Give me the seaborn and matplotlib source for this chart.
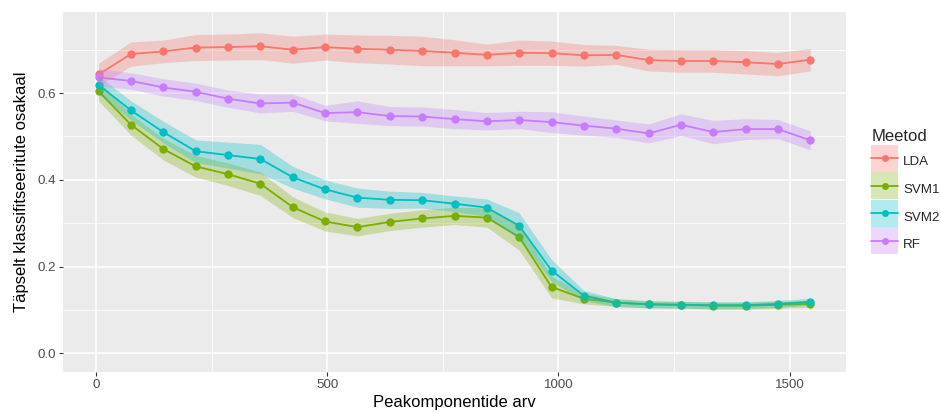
import matplotlib
matplotlib.use('Agg')
import matplotlib.pyplot as plt
import seaborn as sns
import pandas as pd
from matplotlib.lines import Line2D
from matplotlib.patches import Patch, Rectangle
from matplotlib.legend_handler import HandlerTuple, HandlerPatch

# andmed (loetud jooniselt)
komponendid = [5, 75, 145, 215, 285, 355, 425, 495, 565, 635, 705, 775,
               845, 915, 985, 1055, 1125, 1195, 1265, 1335, 1405, 1475, 1545]
meetodid = ['LDA', 'SVM1', 'SVM2', 'RF']

lda = [0.643, 0.690, 0.696, 0.705, 0.706, 0.708, 0.700, 0.706, 0.702, 0.700, 0.697, 0.693,
       0.688, 0.693, 0.692, 0.687, 0.688, 0.676, 0.674, 0.674, 0.671, 0.667, 0.677]
svm1 = [0.604, 0.527, 0.471, 0.431, 0.413, 0.391, 0.337, 0.304, 0.291, 0.303, 0.311, 0.317,
        0.313, 0.268, 0.153, 0.126, 0.117, 0.113, 0.112, 0.110, 0.110, 0.112, 0.114]
svm2 = [0.619, 0.560, 0.510, 0.466, 0.457, 0.448, 0.406, 0.378, 0.359, 0.354, 0.353, 0.345,
        0.336, 0.294, 0.191, 0.133, 0.117, 0.113, 0.112, 0.111, 0.111, 0.114, 0.119]
rf = [0.636, 0.628, 0.613, 0.603, 0.587, 0.576, 0.578, 0.554, 0.556, 0.547, 0.546, 0.540,
      0.535, 0.538, 0.533, 0.525, 0.518, 0.507, 0.527, 0.510, 0.517, 0.517, 0.491]

# vahemiku poollaius
lda_sd = [0.026, 0.028, 0.026, 0.030, 0.030, 0.031, 0.031, 0.030, 0.032, 0.033, 0.034, 0.030,
          0.025, 0.029, 0.028, 0.025, 0.022, 0.025, 0.026, 0.026, 0.027, 0.027, 0.026]
svm1_sd = [0.022, 0.024, 0.025, 0.025, 0.026, 0.027, 0.024, 0.022, 0.020, 0.020, 0.020, 0.020,
           0.022, 0.030, 0.025, 0.012, 0.009, 0.008, 0.008, 0.008, 0.008, 0.008, 0.008]
svm2_sd = [0.020, 0.022, 0.025, 0.026, 0.030, 0.034, 0.025, 0.022, 0.022, 0.020, 0.018, 0.018,
           0.020, 0.030, 0.025, 0.012, 0.009, 0.008, 0.008, 0.008, 0.008, 0.008, 0.008]
rf_sd = [0.020, 0.019, 0.020, 0.020, 0.020, 0.022, 0.020, 0.018, 0.026, 0.022, 0.022, 0.022,
         0.020, 0.020, 0.024, 0.022, 0.020, 0.022, 0.025, 0.027, 0.024, 0.022, 0.022]

varvid = {'LDA': '#F8766D', 'SVM1': '#7CAE00', 'SVM2': '#00BFC4', 'RF': '#C77CFF'}

vaartused = {'LDA': lda, 'SVM1': svm1, 'SVM2': svm2, 'RF': rf}
laiused = {'LDA': lda_sd, 'SVM1': svm1_sd, 'SVM2': svm2_sd, 'RF': rf_sd}

df = pd.concat([pd.DataFrame({'Peakomponentide arv': komponendid,
                              'osakaal': vaartused[m],
                              'sd': laiused[m],
                              'Meetod': m}) for m in meetodid], ignore_index=True)

sns.set_style('darkgrid', {'axes.facecolor': '#EBEBEB', 'grid.color': 'white'})
plt.rcParams['font.family'] = ['Liberation Sans', 'DejaVu Sans']

fig = plt.figure(figsize=(9.41, 4.12), dpi=100)
ax = fig.add_axes([0.067, 0.097, 0.832, 0.874])

sns.lineplot(data=df, x='Peakomponentide arv', y='osakaal', hue='Meetod',
             hue_order=meetodid, palette=varvid, marker='o', markersize=6,
             markeredgewidth=0, linewidth=1.3, legend=False, ax=ax, zorder=3)

for m in meetodid:
    d = df[df['Meetod'] == m]
    ax.fill_between(d['Peakomponentide arv'], d['osakaal'] - d['sd'], d['osakaal'] + d['sd'],
                    color=varvid[m], alpha=0.3, linewidth=0, zorder=4)

ax.set_xlim(-72, 1622)
ax.set_ylim(-0.043, 0.787)
ax.set_xticks([0, 500, 1000, 1500])
ax.set_xticks([250, 750, 1250], minor=True)
ax.set_yticks([0.0, 0.2, 0.4, 0.6])
ax.set_yticks([0.1, 0.3, 0.5, 0.7], minor=True)
ax.set_yticklabels(['0.0', '0.2', '0.4', '0.6'])
ax.grid(which='major', color='white', linewidth=1.1)
ax.grid(which='minor', color='white', linewidth=0.55)
ax.tick_params(which='major', length=3, width=0.8, color='#333333', labelcolor='#4D4D4D',
               labelsize=9.6, pad=2, bottom=True, left=True)
ax.tick_params(which='minor', length=0)
for s in ax.spines.values():
    s.set_visible(False)

ax.set_xlabel('Peakomponentide arv', fontsize=12, color='black', labelpad=3)
ax.set_ylabel('Täpselt klassifitseeritute osakaal', fontsize=12, color='black', labelpad=6)


def ruut(legend, orig_handle, xdescent, ydescent, width, height, fontsize):
    # ruudukujuline legendivõti, keskel joonega samal kõrgusel
    kesk = (height - ydescent) / 2
    return Rectangle((-xdescent, kesk - width / 2), width, width)


kasitsejad = [(Patch(facecolor=varvid[m], alpha=0.3, edgecolor='none'),
               Line2D([], [], color=varvid[m], marker='o', markersize=5, markeredgewidth=0, linewidth=1.3))
              for m in meetodid]
leg = fig.legend(kasitsejad, meetodid, title='Meetod', loc='center left',
                 bbox_to_anchor=(0.926, 0.535), frameon=False, fontsize=9.6, title_fontsize=12,
                 handler_map={tuple: HandlerTuple(ndivide=1, pad=0),
                              Patch: HandlerPatch(patch_func=ruut)},
                 handlelength=2.03, handleheight=2.0, labelspacing=0.52, handletextpad=0.35,
                 alignment='left', borderaxespad=0, borderpad=0)

fig.savefig('out.png', dpi=100)
